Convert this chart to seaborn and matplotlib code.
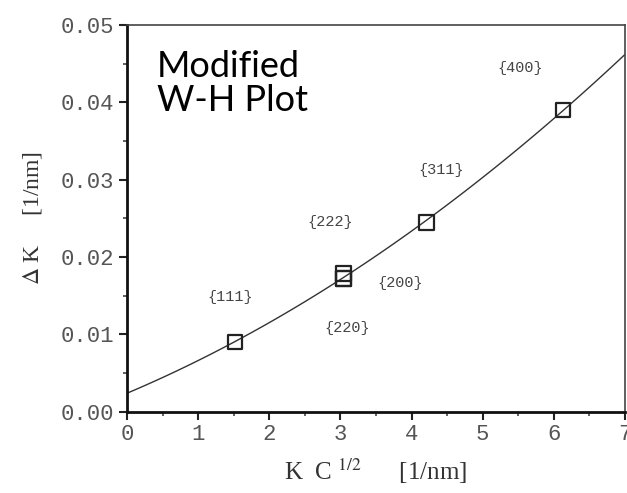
import numpy as np
import pandas as pd
import matplotlib
matplotlib.use("Agg")
import matplotlib.pyplot as plt
import seaborn as sns

# data
hkl = ["{111}", "{200}", "{220}", "{311}", "{222}", "{400}"]
kc_half = [1.52, 3.04, 3.04, 4.21, 3.04, 6.13]
delta_k = [0.0090, 0.0172, 0.0172, 0.0245, 0.0179, 0.0390]
label_x = [1.45, 3.84, 3.09, 4.42, 2.86, 5.53]
label_y = [0.0148, 0.0166, 0.0108, 0.0313, 0.0245, 0.0445]
x_ticks = [0, 1, 2, 3, 4, 5, 6, 7]
y_ticks = [0.00, 0.01, 0.02, 0.03, 0.04, 0.05]

df = pd.DataFrame({"hkl": hkl, "x": kc_half, "y": delta_k})

sns.set_style("ticks")
plt.rcParams["font.family"] = ["DejaVu Sans"]
plt.rcParams["mathtext.fontset"] = "stix"

fig = plt.figure(figsize=(6.27, 4.93), dpi=100)
ax = fig.add_axes([0.2026, 0.1649, 0.7942, 0.7844])
ax.set_xlim(0, 7)
ax.set_ylim(0, 0.05)

sns.regplot(data=df, x="x", y="y", order=2, ci=None, truncate=False,
            scatter=False, line_kws=dict(color="#333333", lw=1.0), ax=ax)
sns.scatterplot(data=df, x="x", y="y", marker="s", s=110, facecolor="none",
                edgecolor="#222222", linewidth=1.6, ax=ax, zorder=5)

for t, lx, ly in zip(hkl, label_x, label_y):
    ax.text(lx, ly, t, ha="center", va="center", fontsize=11,
            family="Liberation Mono", color="#444444")

ax.text(0.42, 0.0468, "Modified\nW-H Plot", ha="left", va="top",
        fontsize=26, family="Lato", color="black", linespacing=1.05)

ax.set_xlim(0, 7)
ax.set_ylim(0, 0.05)
ax.set_xticks(x_ticks)
ax.set_yticks(y_ticks)
ax.set_xticklabels([str(v) for v in x_ticks])
ax.set_yticklabels([f"{v:.2f}" for v in y_ticks])
ax.set_xticks(np.arange(0.5, 7, 1.0), minor=True)
ax.set_yticks(np.arange(0.005, 0.05, 0.01), minor=True)
ax.tick_params(axis="both", which="major", direction="out", length=6, width=1.5,
               colors="#222222", labelcolor="#555555", labelsize=16, pad=3)
ax.tick_params(axis="both", which="minor", direction="out", length=3, width=1.2,
               colors="#444444")
for lab in ax.get_xticklabels() + ax.get_yticklabels():
    lab.set_family("Liberation Mono")

for s in ["left", "bottom"]:
    ax.spines[s].set_linewidth(2.0)
    ax.spines[s].set_color("#111111")
for s in ["top", "right"]:
    ax.spines[s].set_visible(True)
    ax.spines[s].set_linewidth(1.2)
    ax.spines[s].set_color("#444444")

ax.set_xlabel(r"K  C $^{1/2}$      [1/nm]", fontsize=18, family="Liberation Serif",
              color="#333333", labelpad=8)
ax.set_ylabel(r"$\Delta$ K     [1/nm]", fontsize=17, family="Liberation Serif",
              color="#333333", labelpad=12)

fig.savefig("out.png", dpi=100)
